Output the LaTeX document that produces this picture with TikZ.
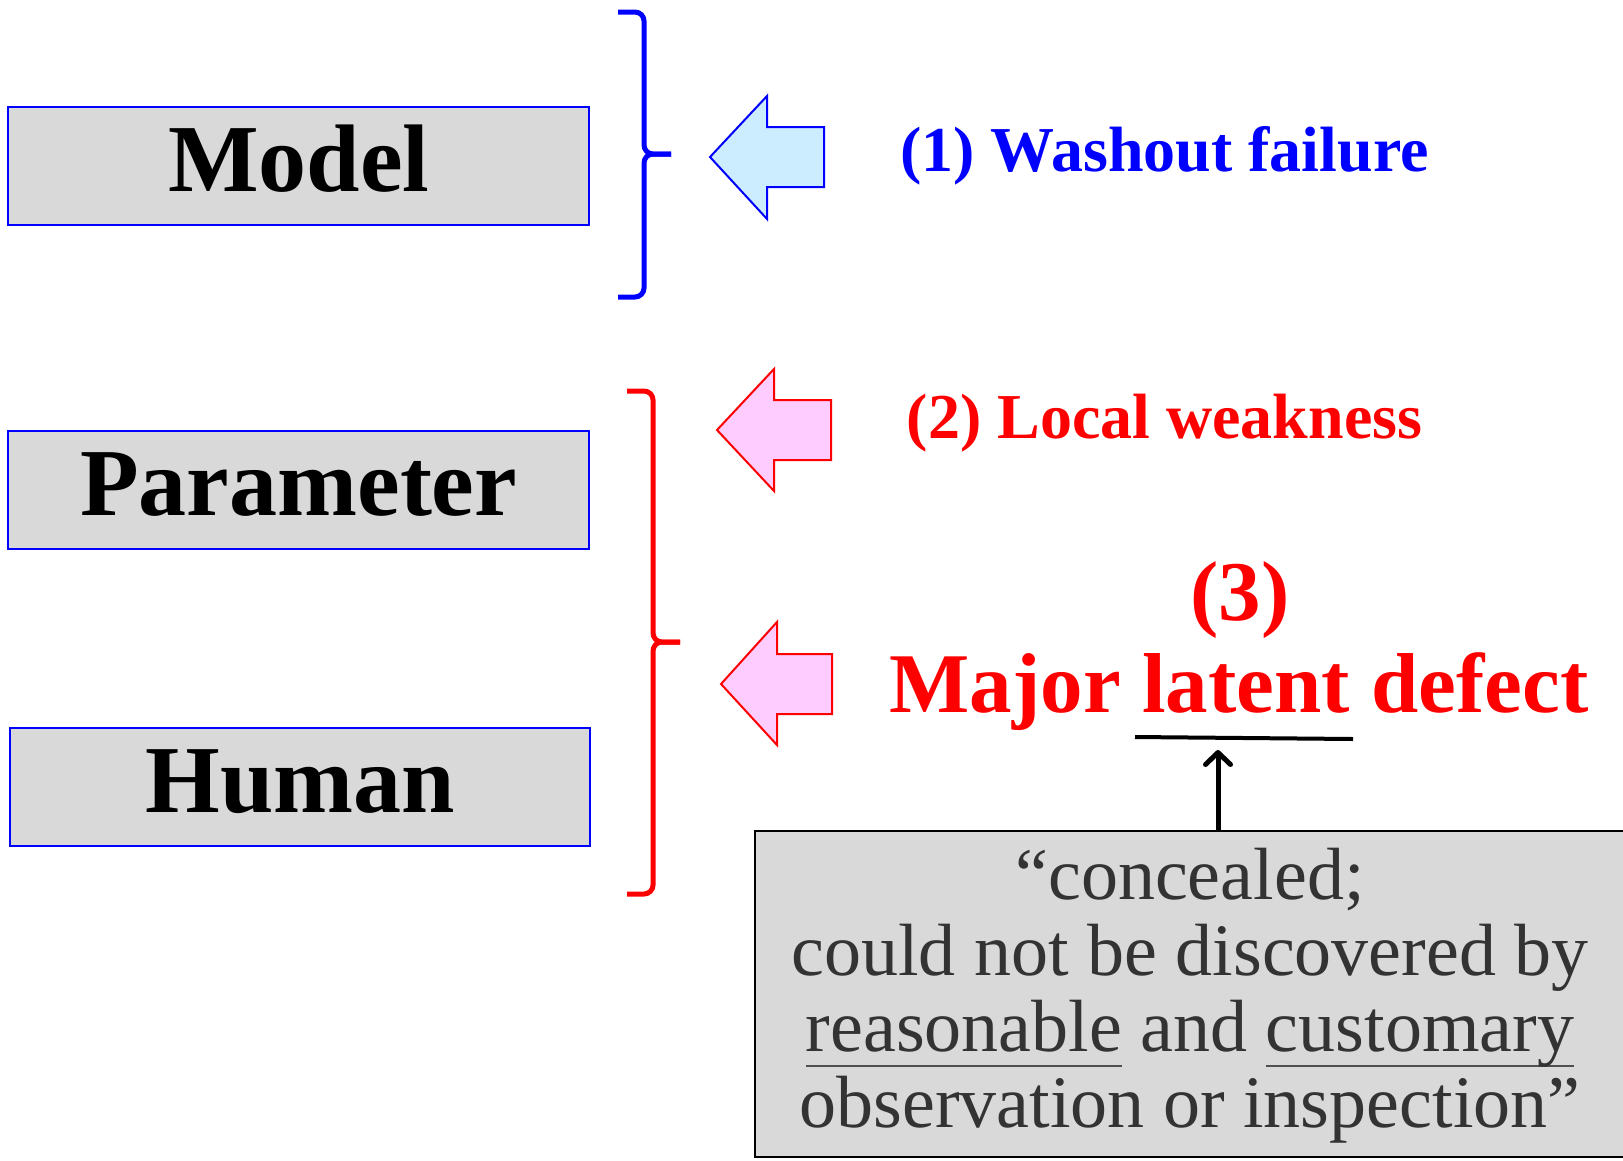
\documentclass[tikz,border=0pt]{standalone}
\usepackage{fontspec}
\setmainfont{Liberation Serif}
\usetikzlibrary{arrows.meta}
\definecolor{boxgray}{RGB}{217,217,217}
\definecolor{lblue}{RGB}{204,236,255}
\definecolor{lpink}{RGB}{255,204,255}
\definecolor{pblue}{RGB}{0,0,255}
\definecolor{pred}{RGB}{255,0,0}
\definecolor{txtgray}{RGB}{51,51,51}
\definecolor{ulgray}{RGB}{80,80,80}
\newcommand\grayul[1]{\sbox0{#1}\rlap{\color{ulgray}\rule[-16pt]{\wd0}{2.2pt}}\usebox0}
\begin{document}
\begin{tikzpicture}[x=1pt,y=-1pt,
  catbox/.style={draw=pblue, line width=2pt, fill=boxgray, minimum height=118pt,
    inner sep=0pt, text height=60pt, text depth=9.2pt,
    font=\fontsize{96pt}{100pt}\selectfont\bfseries},
  bracebig/.style={line width=5pt, rounded corners=9pt, line cap=butt},
  blockblue/.style={draw=pblue, fill=lblue, line width=2pt, line join=miter},
  blockpink/.style={draw=pred, fill=lpink, line width=2pt, line join=miter},
  lbl/.style={anchor=base, inner sep=0pt, font=\fontsize{64pt}{70pt}\selectfont\bfseries},
  biglbl/.style={anchor=base, inner sep=0pt, font=\fontsize{85pt}{90pt}\selectfont\bfseries, text=pred},
  quotebox/.style={draw=black, line width=2.5pt, fill=boxgray, minimum width=875pt, minimum height=326pt, inner sep=0pt},
  uparrow/.style={line width=5pt, -{Straight Barb[length=12pt,width=25pt,round,line width=5pt]}}
]
\useasboundingbox (0,0) rectangle (1623,1160);

% category boxes
\node[catbox, minimum width=580.7pt] (model) at (298.65,165.6) {Model};
\node[catbox, minimum width=580.7pt] (param) at (298.65,489.6) {Parameter};
\node[catbox, minimum width=579.7pt] (human) at (300.15,786.6) {Human};

% braces
\draw[bracebig, pblue] (618,12) -- (644,12) -- (644,154) -- (671,154);
\draw[bracebig, pblue] (671,154) -- (644,154) -- (644,297) -- (618,297);
\draw[bracebig, pred] (627,391) -- (653,391) -- (653,642) -- (680,642);
\draw[bracebig, pred] (680,642) -- (653,642) -- (653,894) -- (627,894);

% block arrows
\draw[blockblue] (710,157) -- (767,96) -- (767,127) -- (824,127) -- (824,187) -- (767,187) -- (767,219) -- cycle;
\draw[blockpink] (717,430) -- (774,369) -- (774,400) -- (831,400) -- (831,460) -- (774,460) -- (774,491) -- cycle;
\draw[blockpink] (721,684) -- (777,622) -- (777,654) -- (832,654) -- (832,714) -- (777,714) -- (777,745) -- cycle;

% labels
\node[lbl, text=pblue] (l1) at (1164.5,171) {(1) Washout failure};
\node[lbl, text=pred] (l2) at (1164.5,438) {(2) Local weakness};
\node[biglbl] (l3) at (1240,620) {(3)};
\node[biglbl] (major) at (1239,712) {Major latent defect};

% underline of "latent" and pointer
\coordinate (ulA) at (1135,737);
\coordinate (ulB) at (1353,739);
\draw[line width=4pt] (ulA) -- (ulB);
\coordinate (tipc) at (1218,750);

% quote box
\node[quotebox] (qbox) at (1192.5,994) {};
\node[anchor=base, inner sep=0pt, text=txtgray, font=\fontsize{74pt}{76pt}\selectfont] (qtext) at (1190,899)
  {\begin{tabular}[t]{@{}c@{}}“concealed;\\ could not be discovered by\\ \grayul{reasonable} and \grayul{customary}\\ observation or inspection”\end{tabular}};
\draw[uparrow] (qbox.north -| tipc) -- (tipc);
\end{tikzpicture}
\end{document}
